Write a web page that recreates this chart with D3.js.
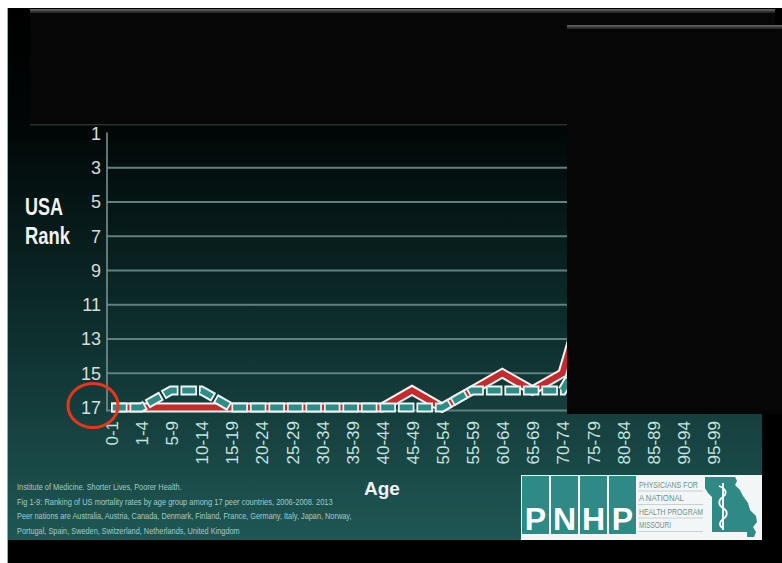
<!DOCTYPE html>
<html>
<head>
<meta charset="utf-8">
<script src="https://cdn.jsdelivr.net/npm/d3@7"></script>
<style>
  html, body { margin: 0; padding: 0; background: #ffffff; }
  svg { display: block; }
</style>
</head>
<body>
<svg id="chart" width="782" height="563"></svg>
<script>
// Age groups along the x axis
const ageGroups = ["0-1","1-4","5-9","10-14","15-19","20-24","25-29","30-34","35-39",
  "40-44","45-49","50-54","55-59","60-64","65-69","70-74","75-79","80-84","85-89","90-94","95-99"];

// USA rank among 17 peer countries, per age group (1 = best, 17 = worst)
const rankRed    = [17,17,17,17,17,17,17,17,17,17,16,17,16,15,16,15,9];
const rankDashed = [17,17,16,16,17,17,17,17,17,17,17,17,16,16,16,16,13];

// Rank axis ticks
const rankTicks = [1,3,5,7,9,11,13,15,17];
const rankGrid  = [3,5,7,9,11,13,15];

// Source note
const sourceLines = [
  "Institute of Medicine. Shorter Lives, Poorer Health.",
  "Fig 1-9: Ranking of US mortality rates by age group among 17 peer countries, 2006-2008. 2013",
  "Peer nations are Australia, Austria, Canada, Denmark, Finland, France, Germany, Italy, Japan, Norway,",
  "Portugal, Spain, Sweden, Switzerland, Netherlands, United Kingdom"
];
const sourceWidths = [165, 316, 335, 223];

// Logo text
const logoLetters = ["P","N","H","P"];
const logoTagLines = ["PHYSICIANS FOR","A NATIONAL","HEALTH PROGRAM","MISSOURI"];
const logoTagWidths = [59, 45, 64, 32];

const FONT = "'Liberation Sans', Arial, Helvetica, sans-serif";

const svg = d3.select("#chart");
const defs = svg.append("defs");

// squeeze a text element horizontally so it spans the given width
function fitWidth(sel, width, x0, y0) {
  sel.each(function () {
    const len = this.getComputedTextLength();
    const k = len > 0 ? width / len : 1;
    d3.select(this).attr("x", 0).attr("y", 0)
      .attr("transform", `translate(${x0},${y0}) scale(${k},1)`);
  });
}

// slide background gradient: black at top, dark teal at bottom
const grad = defs.append("linearGradient")
  .attr("id", "slideBg").attr("x1", 0).attr("y1", 0).attr("x2", 0).attr("y2", 1);
grad.append("stop").attr("offset", "0%").attr("stop-color", "#000000");
grad.append("stop").attr("offset", "22%").attr("stop-color", "#010606");
grad.append("stop").attr("offset", "55%").attr("stop-color", "#0b2928");
grad.append("stop").attr("offset", "100%").attr("stop-color", "#1f5754");

const edgeGrad = defs.append("linearGradient")
  .attr("id", "edgeBg").attr("x1", 0).attr("y1", 0).attr("x2", 0).attr("y2", 1);
edgeGrad.append("stop").attr("offset", "0%").attr("stop-color", "#6a6a6a");
edgeGrad.append("stop").attr("offset", "100%").attr("stop-color", "#1a1a1a");

// page frame
svg.append("rect").attr("x", 0).attr("y", 0).attr("width", 782).attr("height", 563).attr("fill", "#ffffff");
svg.append("rect").attr("x", 8).attr("y", 8).attr("width", 774).attr("height", 555).attr("fill", "#000000");
svg.append("rect").attr("x", 8).attr("y", 8).attr("width", 754).attr("height", 532).attr("fill", "url(#slideBg)");
svg.append("line").attr("x1", 7.5).attr("x2", 7.5).attr("y1", 8).attr("y2", 563)
  .attr("stroke", "#8aa6d8").attr("stroke-width", 1);

// scales
const x = d3.scalePoint().domain(ageGroups).range([111, 713]);
const y = d3.scaleLinear().domain([1, 17]).range([133.5, 407.5]);

// gridlines
svg.append("g").selectAll("line").data(rankGrid).join("line")
  .attr("x1", 107).attr("x2", 600)
  .attr("y1", d => y(d)).attr("y2", d => y(d))
  .attr("stroke", "#61807e").attr("stroke-width", 2);
svg.append("line")
  .attr("x1", 107).attr("x2", 600)
  .attr("y1", y(17) + 3).attr("y2", y(17) + 3)
  .attr("stroke", "#61807e").attr("stroke-width", 2);

// y axis
const yAxis = d3.axisLeft(y).tickValues(rankTicks).tickSize(0).tickPadding(6).tickFormat(d3.format("d"));
const gy = svg.append("g").attr("transform", "translate(107,0)").call(yAxis);
gy.select(".domain").remove();
gy.append("line").attr("x1", 0).attr("x2", 0).attr("y1", y(1) - 1).attr("y2", y(17) + 4)
  .attr("stroke", "#7f9896").attr("stroke-width", 1.5);
gy.selectAll("text")
  .attr("fill", "#d6dddc").attr("font-family", FONT).attr("font-size", 18);

// x axis labels (rotated)
const xAxis = d3.axisBottom(x).tickSize(0).tickPadding(0);
const gx = svg.append("g").attr("transform", "translate(0,421)").call(xAxis);
gx.select(".domain").remove();
gx.selectAll("text")
  .attr("fill", "#c6e4e0").attr("font-family", FONT).attr("font-size", 17)
  .attr("text-anchor", "end")
  .attr("transform", "rotate(-90)")
  .attr("x", 0).attr("y", 0).attr("dy", "0.38em");

// series lines
const lineGen = d3.line()
  .defined(d => d.v != null)
  .x(d => x(d.a)).y(d => y(d.v));
const redData = rankRed.map((v, i) => ({ a: ageGroups[i], v }));
const dashData = rankDashed.map((v, i) => ({ a: ageGroups[i], v }));

svg.append("path").datum(redData).attr("d", lineGen)
  .attr("fill", "none").attr("stroke", "#f3f3f3").attr("stroke-width", 10)
  .attr("stroke-linejoin", "miter");
svg.append("path").datum(redData).attr("d", lineGen)
  .attr("fill", "none").attr("stroke", "#c52a2d").attr("stroke-width", 6)
  .attr("stroke-linejoin", "miter");

svg.append("path").datum(dashData).attr("d", lineGen)
  .attr("fill", "none").attr("stroke", "#eef6f5").attr("stroke-width", 10)
  .attr("stroke-dasharray", "16.5,2").attr("stroke-linejoin", "miter");
svg.append("path").datum(dashData).attr("d", lineGen)
  .attr("fill", "none").attr("stroke", "#2e8b85").attr("stroke-width", 6)
  .attr("stroke-dasharray", "13,5.5").attr("stroke-dashoffset", -1.75)
  .attr("stroke-linejoin", "miter");

// axis titles
const usa = svg.append("text").text("USA")
  .attr("fill", "#f2f2f2").attr("font-family", FONT).attr("font-weight", "bold").attr("font-size", 23);
fitWidth(usa, 38, 25, 215);
const rank = svg.append("text").text("Rank")
  .attr("fill", "#f2f2f2").attr("font-family", FONT).attr("font-weight", "bold").attr("font-size", 23);
fitWidth(rank, 45, 25, 244);
svg.append("text").attr("x", 364).attr("y", 495).text("Age")
  .attr("fill", "#f2f2f2").attr("font-family", FONT).attr("font-weight", "bold").attr("font-size", 19);

// highlight circle around rank 17
svg.append("ellipse").attr("cx", 93).attr("cy", y(17) - 2).attr("rx", 25).attr("ry", 22)
  .attr("fill", "none").attr("stroke", "#e8351d").attr("stroke-width", 3);

// covering panels
function panel(x0, y0, w, h) {
  svg.append("rect").attr("x", x0).attr("y", y0).attr("width", w).attr("height", h).attr("fill", "#060606");
  svg.append("rect").attr("x", x0).attr("y", y0).attr("width", w).attr("height", 4).attr("fill", "url(#edgeBg)");
}
panel(30, 9, 745, 116);
svg.append("rect").attr("x", 30).attr("y", 124).attr("width", 745).attr("height", 1.5).attr("fill", "#2a2f2f");
panel(567, 25, 215, 389);

// source note
svg.append("g").selectAll("text").data(sourceLines).join("text")
  .attr("fill", "#a3cbc8").attr("font-family", FONT).attr("font-size", 9)
  .text(d => d)
  .each(function (d, i) { fitWidth(d3.select(this), sourceWidths[i], 17, 490 + i * 14.5); });

// logo
const logo = svg.append("g");
logo.append("rect").attr("x", 521).attr("y", 475).attr("width", 241).attr("height", 65).attr("fill", "#f3f6f6");
const sq = 27;
logo.selectAll("rect.sq").data(logoLetters).join("rect").attr("class", "sq")
  .attr("x", (d, i) => 522 + i * (sq + 2)).attr("y", 476).attr("width", sq).attr("height", 58)
  .attr("fill", "#2f8985");
logo.selectAll("text.lt").data(logoLetters).join("text").attr("class", "lt")
  .attr("x", (d, i) => 522 + i * (sq + 2) + sq / 2).attr("y", 530)
  .attr("text-anchor", "middle").attr("fill", "#ffffff")
  .attr("font-family", FONT).attr("font-weight", "bold").attr("font-size", 32)
  .text(d => d);
logo.selectAll("text.tag").data(logoTagLines).join("text").attr("class", "tag")
  .attr("fill", "#6d8f8d").attr("font-family", FONT).attr("font-size", 8.5)
  .text(d => d)
  .each(function (d, i) { fitWidth(d3.select(this), logoTagWidths[i], 639, 488 + i * 13.3); });
logo.selectAll("line.ul").data(logoTagLines).join("line").attr("class", "ul")
  .attr("x1", 638).attr("x2", 703)
  .attr("y1", (d, i) => 491 + i * 13.5).attr("y2", (d, i) => 491 + i * 13.5)
  .attr("stroke", "#b7cac9").attr("stroke-width", 0.8);
// state outline
logo.append("path")
  .attr("d", "M705,477 L735,477 L737,481 L735,485 L740,490 L743,496 L748,503 L750,510 L756,516 L757,522 L753,527 L756,532 L754,537 L747,537 L747,532 L712,532 L712,497 L708,493 L705,488 Z")
  .attr("fill", "#2f8985");
// caduceus
logo.append("line").attr("x1", 723).attr("x2", 723).attr("y1", 483).attr("y2", 530)
  .attr("stroke", "#ffffff").attr("stroke-width", 1.8);
logo.append("path")
  .attr("d", "M719,486 C727,489 727,494 723,497 C718,500 718,505 723,508 C728,511 728,516 723,519 C719,522 719,526 723,528")
  .attr("fill", "none").attr("stroke", "#ffffff").attr("stroke-width", 1.8);
</script>
</body>
</html>
